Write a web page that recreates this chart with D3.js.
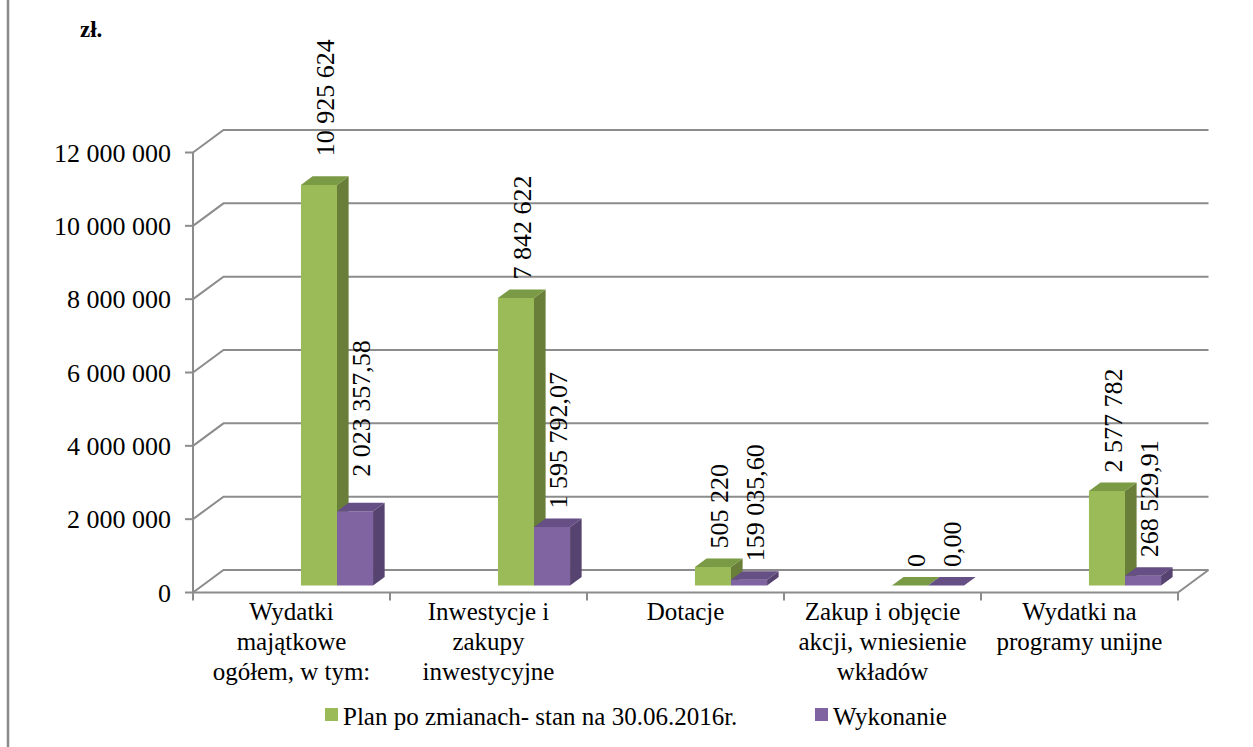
<!DOCTYPE html>
<html>
<head>
<meta charset="utf-8">
<script src="https://cdn.jsdelivr.net/npm/d3@7"></script>
</head>
<body style="margin:0">
<svg id="chart" width="1253" height="747"></svg>
<script>
const categories = [
  ["Wydatki", "majątkowe", "ogółem, w tym:"],
  ["Inwestycje i", "zakupy", "inwestycyjne"],
  ["Dotacje"],
  ["Zakup i objęcie", "akcji, wniesienie", "wkładów"],
  ["Wydatki na", "programy unijne"]
]
const plan = [10925624, 7842622, 505220, 0, 2577782]
const wykonanie = [2023357.58, 1595792.07, 159035.60, 0.00, 268529.91]
const yTicks = [0, 2000000, 4000000, 6000000, 8000000, 10000000, 12000000]
const seriesNames = ["Plan po zmianach- stan na 30.06.2016r.", "Wykonanie"]

const FONT = "Times New Roman"
const svg = d3.select("#chart")

// 3d depth of the plot box
const DX = 30.5
const DY = 22.5
const Z0 = 0.31, Z1 = 0.69

const x = d3.scaleBand().domain(d3.range(categories.length)).range([193, 1178])
const y = d3.scaleLinear().domain([0, 12000000]).range([592.5, 152.5])

const pl = d3.formatLocale({decimal: ",", thousands: " ", grouping: [3], currency: ["", ""]})
const fInt = pl.format(",.0f")
const fDec = pl.format(",.2f")

const colors = [
  {front: "#9bbb59", side: "#687e39", top: "#7b9a45"},
  {front: "#8064a2", side: "#56436f", top: "#654f84"}
]

function label(parent, txt, size) {
  return parent.append("text").attr("font-family", FONT).attr("font-size", size).text(txt)
}

// left frame line
svg.append("line").attr("x1", 8).attr("x2", 8).attr("y1", 0).attr("y2", 747)
  .attr("stroke", "#8a8a8a").attr("stroke-width", 2.5)

const grid = svg.append("g")
yTicks.forEach(v => {
  const yy = y(v)
  grid.append("path")
    .attr("d", `M${x.range()[0]},${yy} L${x.range()[0] + DX},${yy - DY} L${x.range()[1] + DX},${yy - DY}`)
    .attr("fill", "none").attr("stroke", "#8c8c8c").attr("stroke-width", 2)
  grid.append("line").attr("x1", 185).attr("x2", 193).attr("y1", yy).attr("y2", yy)
    .attr("stroke", "#8c8c8c").attr("stroke-width", 2)
  label(grid, fInt(v), 26).attr("x", 171).attr("y", yy + 9).attr("text-anchor", "end")
})

// y axis and floor front edges
svg.append("line").attr("x1", 193).attr("x2", 193).attr("y1", y(12000000)).attr("y2", y(0))
  .attr("stroke", "#8c8c8c").attr("stroke-width", 2)
svg.append("path")
  .attr("d", `M193,${y(0)} L1178,${y(0)} L${1178 + DX},${y(0) - DY}`)
  .attr("fill", "none").attr("stroke", "#8c8c8c").attr("stroke-width", 2)
d3.range(categories.length + 1).forEach(i => {
  const xx = 193 + i * x.bandwidth()
  svg.append("line").attr("x1", xx).attr("x2", xx).attr("y1", y(0)).attr("y2", y(0) + 8)
    .attr("stroke", "#8c8c8c").attr("stroke-width", 2)
})

const bw = x.bandwidth() * 0.183
const bars = svg.append("g")
const labels = svg.append("g")
const series = [plan, wykonanie]

categories.forEach((c, i) => {
  series.forEach((s, k) => {
    const v = s[i]
    const xl = x(i) + x.bandwidth() * 0.5 + k * bw
    const xr = xl + bw
    const yt = y(v), yb = y(0)
    const P = (px, py, z) => [px + z * DX, py - z * DY]
    const poly = pts => "M" + pts.map(p => p.join(",")).join("L") + "Z"
    const col = colors[k]
    if (v > 0) {
      bars.append("path").attr("d", poly([P(xl, yb, Z0), P(xr, yb, Z0), P(xr, yt, Z0), P(xl, yt, Z0)]))
        .attr("fill", col.front)
      bars.append("path").attr("d", poly([P(xr, yb, Z0), P(xr, yb, Z1), P(xr, yt, Z1), P(xr, yt, Z0)]))
        .attr("fill", col.side)
    }
    bars.append("path").attr("d", poly([P(xl, yt, Z0), P(xr, yt, Z0), P(xr, yt, Z1), P(xl, yt, Z1)]))
      .attr("fill", col.top)

    const [lx] = P((xl + xr) / 2, yt, (Z0 + Z1) / 2)
    // first group labels sit a bit higher in the original
    const ly = yt - Z1 * DY - (i === 0 ? (k === 0 ? 20 : 26) : 10)
    label(labels, k === 0 ? fInt(v) : fDec(v), 26)
      .attr("transform", `translate(${lx + 9},${ly}) rotate(-90)`)
  })

  c.forEach((line, j) => {
    label(svg, line, 25).attr("text-anchor", "middle")
      .attr("x", x(i) + x.bandwidth() / 2).attr("y", 620 + j * 30)
  })
})

label(svg, "zł.", 23).attr("x", 80).attr("y", 37).attr("font-weight", "bold")

// legend
const legendX = [325, 815]
seriesNames.forEach((n, k) => {
  svg.append("rect").attr("x", legendX[k]).attr("y", 708).attr("width", 13).attr("height", 13)
    .attr("fill", colors[k].front)
  label(svg, n, 25).attr("x", legendX[k] + 18).attr("y", 725)
})
</script>
</body>
</html>
